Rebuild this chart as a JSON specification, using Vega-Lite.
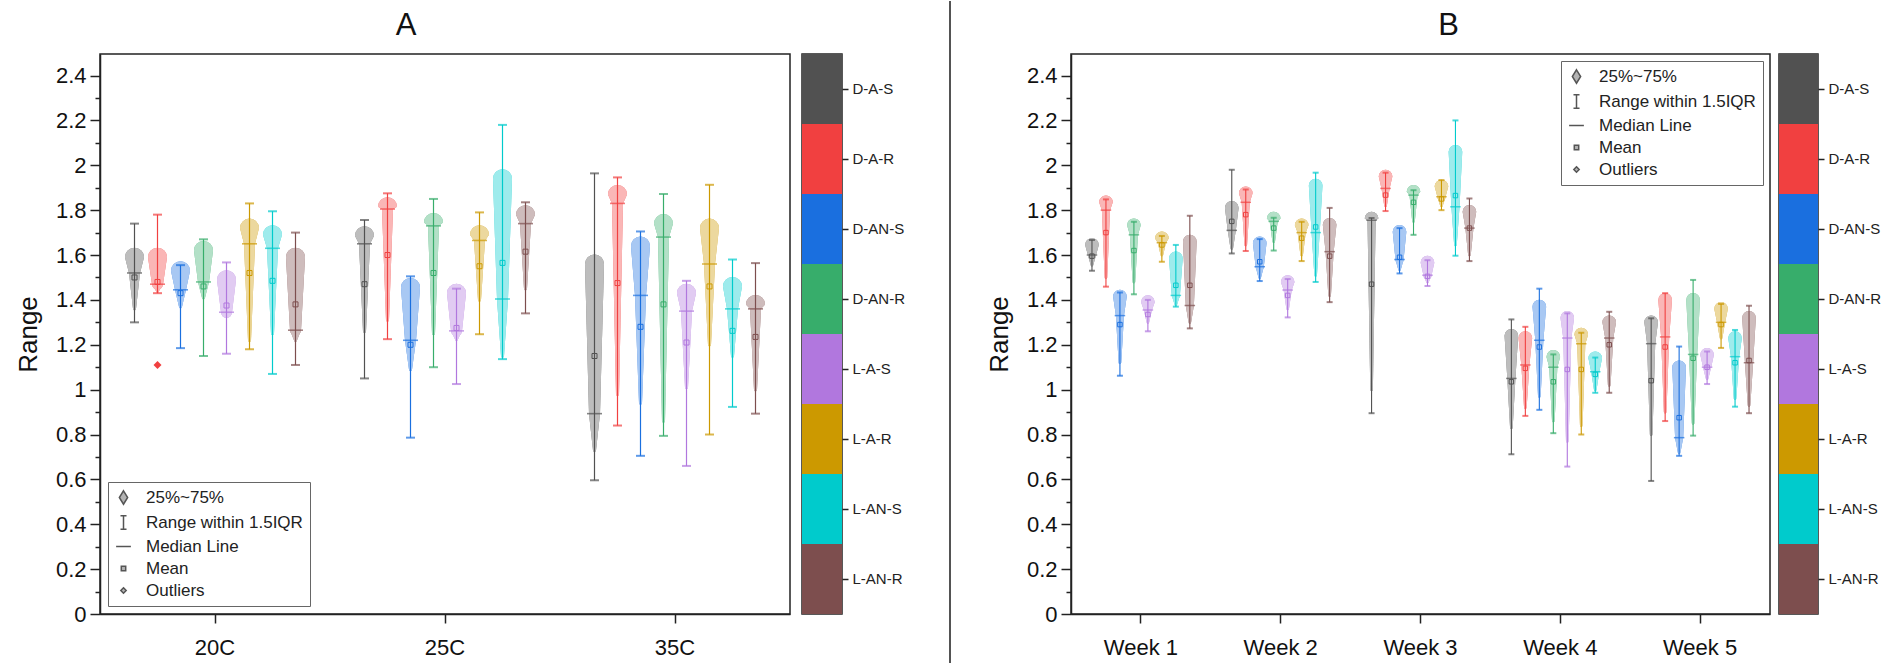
{
"$schema":"https://vega.github.io/schema/vega-lite/v6.json",
"padding":{"left":14,"top":0,"right":0,"bottom":0},
"autosize":{"type":"pad"},
"config":{"font":"Liberation Sans","view":{"stroke":"#222","strokeWidth":1.5},"axis":{"domainColor":"#222","tickColor":"#222","domainWidth":1.5,"tickWidth":1.5,"labelColor":"#111","grid":false}},
"datasets":{
"cats":[{"c":"D-A-S"},{"c":"D-A-R"},{"c":"D-AN-S"},{"c":"D-AN-R"},{"c":"L-A-S"},{"c":"L-A-R"},{"c":"L-AN-S"},{"c":"L-AN-R"}],
"a":[
{"g":"20C","c":"D-A-S","min":1.30,"q1":1.36,"median":1.52,"q3":1.59,"max":1.74,"mean":1.50},
{"g":"20C","c":"D-A-R","min":1.43,"q1":1.44,"median":1.47,"q3":1.59,"max":1.78,"mean":1.48,"out":1.11},
{"g":"20C","c":"D-AN-S","min":1.185,"q1":1.37,"median":1.445,"q3":1.53,"max":1.555,"mean":1.43},
{"g":"20C","c":"D-AN-R","min":1.15,"q1":1.41,"median":1.48,"q3":1.62,"max":1.67,"mean":1.46},
{"g":"20C","c":"L-A-S","min":1.16,"q1":1.33,"median":1.345,"q3":1.49,"max":1.567,"mean":1.375},
{"g":"20C","c":"L-A-R","min":1.18,"q1":1.22,"median":1.65,"q3":1.72,"max":1.83,"mean":1.52},
{"g":"20C","c":"L-AN-S","min":1.07,"q1":1.25,"median":1.63,"q3":1.69,"max":1.795,"mean":1.485},
{"g":"20C","c":"L-AN-R","min":1.11,"q1":1.22,"median":1.265,"q3":1.59,"max":1.70,"mean":1.38},
{"g":"25C","c":"D-A-S","min":1.05,"q1":1.26,"median":1.65,"q3":1.686,"max":1.756,"mean":1.47},
{"g":"25C","c":"D-A-R","min":1.225,"q1":1.31,"median":1.805,"q3":1.815,"max":1.875,"mean":1.60},
{"g":"25C","c":"D-AN-S","min":0.786,"q1":1.09,"median":1.22,"q3":1.455,"max":1.505,"mean":1.20},
{"g":"25C","c":"D-AN-R","min":1.10,"q1":1.25,"median":1.73,"q3":1.745,"max":1.85,"mean":1.52},
{"g":"25C","c":"L-A-S","min":1.025,"q1":1.225,"median":1.262,"q3":1.43,"max":1.45,"mean":1.275},
{"g":"25C","c":"L-A-R","min":1.247,"q1":1.40,"median":1.665,"q3":1.69,"max":1.79,"mean":1.55},
{"g":"25C","c":"L-AN-S","min":1.136,"q1":1.15,"median":1.404,"q3":1.94,"max":2.18,"mean":1.565},
{"g":"25C","c":"L-AN-R","min":1.34,"q1":1.45,"median":1.74,"q3":1.78,"max":1.835,"mean":1.615},
{"g":"35C","c":"D-A-S","min":0.596,"q1":0.73,"median":0.893,"q3":1.56,"max":1.964,"mean":1.15},
{"g":"35C","c":"D-A-R","min":0.84,"q1":0.98,"median":1.83,"q3":1.87,"max":1.946,"mean":1.475},
{"g":"35C","c":"D-AN-S","min":0.705,"q1":0.94,"median":1.42,"q3":1.64,"max":1.705,"mean":1.28},
{"g":"35C","c":"D-AN-R","min":0.794,"q1":0.86,"median":1.68,"q3":1.74,"max":1.872,"mean":1.38},
{"g":"35C","c":"L-A-S","min":0.66,"q1":1.01,"median":1.35,"q3":1.43,"max":1.485,"mean":1.21},
{"g":"35C","c":"L-A-R","min":0.80,"q1":1.20,"median":1.56,"q3":1.72,"max":1.913,"mean":1.46},
{"g":"35C","c":"L-AN-S","min":0.923,"q1":1.15,"median":1.36,"q3":1.46,"max":1.58,"mean":1.262},
{"g":"35C","c":"L-AN-R","min":0.893,"q1":1.0,"median":1.36,"q3":1.38,"max":1.564,"mean":1.235}
],
"b":[
{"g":"Week 1","c":"D-A-S","min":1.53,"q1":1.555,"median":1.60,"q3":1.645,"max":1.667,"mean":1.595},
{"g":"Week 1","c":"D-A-R","min":1.459,"q1":1.50,"median":1.80,"q3":1.835,"max":1.848,"mean":1.70},
{"g":"Week 1","c":"D-AN-S","min":1.062,"q1":1.12,"median":1.33,"q3":1.415,"max":1.433,"mean":1.29},
{"g":"Week 1","c":"D-AN-R","min":1.425,"q1":1.48,"median":1.69,"q3":1.733,"max":1.748,"mean":1.62},
{"g":"Week 1","c":"L-A-S","min":1.26,"q1":1.30,"median":1.355,"q3":1.39,"max":1.40,"mean":1.335},
{"g":"Week 1","c":"L-A-R","min":1.57,"q1":1.60,"median":1.655,"q3":1.674,"max":1.685,"mean":1.645},
{"g":"Week 1","c":"L-AN-S","min":1.37,"q1":1.38,"median":1.42,"q3":1.585,"max":1.645,"mean":1.465},
{"g":"Week 1","c":"L-AN-R","min":1.273,"q1":1.30,"median":1.375,"q3":1.66,"max":1.775,"mean":1.465},
{"g":"Week 2","c":"D-A-S","min":1.607,"q1":1.63,"median":1.71,"q3":1.81,"max":1.98,"mean":1.75},
{"g":"Week 2","c":"D-A-R","min":1.618,"q1":1.645,"median":1.835,"q3":1.875,"max":1.892,"mean":1.78},
{"g":"Week 2","c":"D-AN-S","min":1.484,"q1":1.50,"median":1.548,"q3":1.652,"max":1.671,"mean":1.57},
{"g":"Week 2","c":"D-AN-R","min":1.62,"q1":1.66,"median":1.75,"q3":1.763,"max":1.766,"mean":1.72},
{"g":"Week 2","c":"L-A-S","min":1.322,"q1":1.36,"median":1.444,"q3":1.48,"max":1.493,"mean":1.42},
{"g":"Week 2","c":"L-A-R","min":1.573,"q1":1.60,"median":1.70,"q3":1.733,"max":1.748,"mean":1.675},
{"g":"Week 2","c":"L-AN-S","min":1.48,"q1":1.51,"median":1.70,"q3":1.91,"max":1.967,"mean":1.725},
{"g":"Week 2","c":"L-AN-R","min":1.39,"q1":1.42,"median":1.615,"q3":1.735,"max":1.81,"mean":1.595},
{"g":"Week 3","c":"D-A-S","min":0.895,"q1":1.0,"median":1.755,"q3":1.763,"max":1.765,"mean":1.47},
{"g":"Week 3","c":"D-A-R","min":1.796,"q1":1.82,"median":1.897,"q3":1.95,"max":1.967,"mean":1.867},
{"g":"Week 3","c":"D-AN-S","min":1.518,"q1":1.535,"median":1.58,"q3":1.704,"max":1.72,"mean":1.59},
{"g":"Week 3","c":"D-AN-R","min":1.69,"q1":1.75,"median":1.867,"q3":1.882,"max":1.889,"mean":1.835},
{"g":"Week 3","c":"L-A-S","min":1.462,"q1":1.48,"median":1.51,"q3":1.566,"max":1.577,"mean":1.505},
{"g":"Week 3","c":"L-A-R","min":1.80,"q1":1.82,"median":1.86,"q3":1.905,"max":1.934,"mean":1.85},
{"g":"Week 3","c":"L-AN-S","min":1.597,"q1":1.645,"median":1.815,"q3":2.06,"max":2.20,"mean":1.865},
{"g":"Week 3","c":"L-AN-R","min":1.573,"q1":1.60,"median":1.72,"q3":1.793,"max":1.852,"mean":1.72},
{"g":"Week 4","c":"D-A-S","min":0.712,"q1":0.83,"median":1.05,"q3":1.24,"max":1.313,"mean":1.035},
{"g":"Week 4","c":"D-A-R","min":0.883,"q1":0.92,"median":1.11,"q3":1.23,"max":1.28,"mean":1.095},
{"g":"Week 4","c":"D-AN-S","min":0.91,"q1":0.97,"median":1.22,"q3":1.37,"max":1.45,"mean":1.19},
{"g":"Week 4","c":"D-AN-R","min":0.806,"q1":0.86,"median":1.10,"q3":1.146,"max":1.157,"mean":1.035},
{"g":"Week 4","c":"L-A-S","min":0.657,"q1":0.77,"median":1.23,"q3":1.32,"max":1.34,"mean":1.09},
{"g":"Week 4","c":"L-A-R","min":0.80,"q1":0.84,"median":1.205,"q3":1.245,"max":1.254,"mean":1.09},
{"g":"Week 4","c":"L-AN-S","min":0.986,"q1":1.0,"median":1.08,"q3":1.14,"max":1.143,"mean":1.068},
{"g":"Week 4","c":"L-AN-R","min":0.986,"q1":1.02,"median":1.23,"q3":1.30,"max":1.347,"mean":1.20},
{"g":"Week 5","c":"D-A-S","min":0.593,"q1":0.80,"median":1.205,"q3":1.30,"max":1.318,"mean":1.04},
{"g":"Week 5","c":"D-A-R","min":0.86,"q1":0.90,"median":1.235,"q3":1.40,"max":1.43,"mean":1.19},
{"g":"Week 5","c":"D-AN-S","min":0.705,"q1":0.72,"median":0.786,"q3":1.10,"max":1.192,"mean":0.875},
{"g":"Week 5","c":"D-AN-R","min":0.795,"q1":0.85,"median":1.157,"q3":1.40,"max":1.489,"mean":1.14},
{"g":"Week 5","c":"L-A-S","min":1.025,"q1":1.05,"median":1.10,"q3":1.155,"max":1.17,"mean":1.10},
{"g":"Week 5","c":"L-A-R","min":1.186,"q1":1.23,"median":1.30,"q3":1.36,"max":1.382,"mean":1.29},
{"g":"Week 5","c":"L-AN-S","min":0.924,"q1":0.96,"median":1.147,"q3":1.23,"max":1.266,"mean":1.12},
{"g":"Week 5","c":"L-AN-R","min":0.895,"q1":0.93,"median":1.12,"q3":1.32,"max":1.374,"mean":1.13}
]
},
"spacing":34,
"resolve":{"scale":{"color":"independent","shape":"independent","size":"independent","x":"independent","y":"independent","xOffset":"independent"},"legend":{"shape":"independent","color":"independent","size":"independent"}},
"hconcat":[
{"spacing":43,
 "resolve":{"scale":{"color":"independent","shape":"independent","size":"independent","x":"independent","y":"independent","xOffset":"independent"},"legend":{"shape":"independent","color":"independent","size":"independent"}},
 "hconcat":[
 {"spacing":10,
  "resolve":{"scale":{"color":"independent","shape":"independent","size":"independent","x":"independent","y":"independent","xOffset":"independent"},"legend":{"shape":"independent","color":"independent","size":"independent"}},
  "hconcat":[
  {"data":{"name":"a"},"width":690,"height":560,
   "title":{"text":"A","fontSize":31,"font":"Liberation Sans","fontWeight":"normal","color":"#111","dx":-39,"offset":12},
   "encoding":{
     "x":{"field":"g","type":"nominal","sort":["20C","25C","35C"],"scale":{"paddingInner":0,"paddingOuter":0},"axis":{"title":null,"labelAngle":0,"labelFontSize":22,"tickSize":9,"labelPadding":14}},
     "xOffset":{"field":"c","type":"nominal","sort":["D-A-S","D-A-R","D-AN-S","D-AN-R","L-A-S","L-A-R","L-AN-S","L-AN-R"],"scale":{"domain":["D-A-S","D-A-R","D-AN-S","D-AN-R","L-A-S","L-A-R","L-AN-S","L-AN-R"],"paddingInner":0,"paddingOuter":1}}
   },
   "resolve":{"axis":{"y":"independent"}},
   "layer":[
    {"transform":[{"fold":["q1","median","q3"],"as":["stat","v"]}],
     "mark":{"type":"trail"},
     "encoding":{
       "y":{"field":"v","type":"quantitative","scale":{"domain":[0,2.496],"nice":false,"zero":false},"axis":{"values":[0,0.2,0.4,0.6,0.8,1,1.2,1.4,1.6,1.8,2,2.2,2.4],"format":"~g","tickSize":10,"labelFontSize":22,"labelPadding":4,"title":"Range","titleFontSize":26,"titleFontWeight":"normal","titleColor":"#111","titlePadding":14}},
       "size":{"field":"stat","type":"ordinal","scale":{"domain":["q1","median","q3"],"range":[3,19,3]},"legend":null},
       "order":{"field":"v","type":"quantitative"},
       "color":{"field":"c","type":"nominal","scale":{"domain":["D-A-S","D-A-R","D-AN-S","D-AN-R","L-A-S","L-A-R","L-AN-S","L-AN-R"],"range":["#515151","#F14040","#1A6FDF","#37AD6B","#B177DE","#CC9900","#00CBCC","#7D4E4E"]},"legend":null},
       "detail":{"field":"g"}}},
    {"transform":[{"fold":["q1","median","q3"],"as":["stat","v"]}],
     "mark":{"type":"trail","color":"white"},
     "encoding":{
       "y":{"field":"v","type":"quantitative","axis":null},
       "size":{"field":"stat","type":"ordinal","scale":{"domain":["q1","median","q3"],"range":[0,15,0]},"legend":null},
       "order":{"field":"v","type":"quantitative"},
       "detail":[{"field":"g"},{"field":"c"}]}},
    {"transform":[{"fold":["q1","median","q3"],"as":["stat","v"]}],
     "mark":{"type":"trail","opacity":0.38},
     "encoding":{
       "y":{"field":"v","type":"quantitative","axis":null},
       "size":{"field":"stat","type":"ordinal","scale":{"domain":["q1","median","q3"],"range":[0,15,0]},"legend":null},
       "order":{"field":"v","type":"quantitative"},
       "color":{"field":"c","type":"nominal","legend":null},
       "detail":{"field":"g"}}},
    {"mark":{"type":"rule","strokeWidth":1.2},
     "encoding":{"y":{"field":"min","type":"quantitative","axis":null},"y2":{"field":"max"},"color":{"field":"c","type":"nominal","legend":null}}},
    {"mark":{"type":"tick","size":9,"thickness":2},
     "encoding":{"y":{"field":"min","type":"quantitative","axis":null},"color":{"field":"c","type":"nominal","legend":null}}},
    {"mark":{"type":"tick","size":9,"thickness":2},
     "encoding":{"y":{"field":"max","type":"quantitative","axis":{"orient":"left","values":[0.1,0.3,0.5,0.7,0.9,1.1,1.3,1.5,1.7,1.9,2.1,2.3],"tickSize":5,"labels":false,"domain":false,"title":null}},"color":{"field":"c","type":"nominal","legend":null}}},
    {"mark":{"type":"tick","size":15,"thickness":1.6},
     "encoding":{"y":{"field":"median","type":"quantitative","axis":null},"color":{"field":"c","type":"nominal","legend":null}}},
    {"mark":{"type":"point","shape":"M-1,-1H1V1H-1Z","filled":false,"size":25,"strokeWidth":1,"opacity":1},
     "encoding":{"y":{"field":"mean","type":"quantitative","axis":null},"color":{"field":"c","type":"nominal","legend":null}}},
    {"transform":[{"filter":"isValid(datum.out)"}],
     "mark":{"type":"point","filled":true,"size":400,"opacity":1},
     "encoding":{"y":{"field":"out","type":"quantitative","axis":null},"color":{"field":"c","type":"nominal","legend":null},
       "shape":{"datum":"Outliers","type":"nominal","scale":{"domain":["25%~75%","Range within 1.5IQR","Median Line","Mean","Outliers"],"range":["M0,-1L0.62,0L0,1L-0.62,0Z","M-0.45,-1H0.45M0,-1V1M-0.45,1H0.45","M-1.1,0H1.1","M-0.33,-0.33H0.33V0.33H-0.33Z","M0,-0.4L0.4,0L0,0.4L-0.4,0Z"]},
       "legend":{"title":null,"orient":"bottom-left","offset":8,"strokeColor":"#666","padding":7,"labelFontSize":17,"labelColor":"#222","symbolSize":180,"symbolStrokeColor":"#555","symbolStrokeWidth":1.5,"symbolFillColor":"#b3b3b3","rowPadding":4,"labelOffset":14}}}}
   ]},
  {"data":{"name":"cats"},"width":40,"height":560,
   "mark":{"type":"rect"},
   "encoding":{
     "y":{"field":"c","type":"nominal","sort":null,"scale":{"domain":["D-A-S","D-A-R","D-AN-S","D-AN-R","L-A-S","L-A-R","L-AN-S","L-AN-R"],"paddingInner":0,"paddingOuter":0},"axis":{"orient":"right","title":null,"domain":false,"tickSize":6,"labelFontSize":15,"labelPadding":4,"labelColor":"#222"}},
     "x":{"datum":0,"type":"quantitative","scale":{"domain":[0,1]},"axis":null},
     "x2":{"datum":1},
     "color":{"field":"c","type":"nominal","scale":{"domain":["D-A-S","D-A-R","D-AN-S","D-AN-R","L-A-S","L-A-R","L-AN-S","L-AN-R"],"range":["#515151","#F14040","#1A6FDF","#37AD6B","#B177DE","#CC9900","#00CBCC","#7D4E4E"]},"legend":null}}}
  ]},
 {"data":{"name":"cats"},"width":1,"height":560,"view":{"stroke":null},
  "mark":{"type":"rule","color":"#555","strokeWidth":1.5},
  "encoding":{
    "x":{"datum":0,"type":"quantitative","scale":{"domain":[0,1]},"axis":null},
    "y":{"datum":-0.0893,"type":"quantitative","scale":{"domain":[0,1],"nice":false,"zero":false},"axis":null},
    "y2":{"datum":1.0946}}}
 ]},
{"spacing":7,
 "resolve":{"scale":{"color":"independent","shape":"independent","size":"independent","x":"independent","y":"independent","xOffset":"independent"},"legend":{"shape":"independent","color":"independent","size":"independent"}},
 "hconcat":[
  {"data":{"name":"b"},"width":699,"height":560,
   "title":{"text":"B","fontSize":31,"font":"Liberation Sans","fontWeight":"normal","color":"#111","dx":28,"offset":12},
   "encoding":{
     "x":{"field":"g","type":"nominal","sort":["Week 1","Week 2","Week 3","Week 4","Week 5"],"scale":{"paddingInner":0,"paddingOuter":0},"axis":{"title":null,"labelAngle":0,"labelFontSize":22,"tickSize":9,"labelPadding":14}},
     "xOffset":{"field":"c","type":"nominal","sort":["D-A-S","D-A-R","D-AN-S","D-AN-R","L-A-S","L-A-R","L-AN-S","L-AN-R"],"scale":{"domain":["D-A-S","D-A-R","D-AN-S","D-AN-R","L-A-S","L-A-R","L-AN-S","L-AN-R"],"paddingInner":0,"paddingOuter":1}}
   },
   "resolve":{"axis":{"y":"independent"}},
   "layer":[
    {"transform":[{"fold":["q1","median","q3"],"as":["stat","v"]}],
     "mark":{"type":"trail"},
     "encoding":{
       "y":{"field":"v","type":"quantitative","scale":{"domain":[0,2.496],"nice":false,"zero":false},"axis":{"values":[0,0.2,0.4,0.6,0.8,1,1.2,1.4,1.6,1.8,2,2.2,2.4],"format":"~g","tickSize":10,"labelFontSize":22,"labelPadding":4,"title":"Range","titleFontSize":26,"titleFontWeight":"normal","titleColor":"#111","titlePadding":14}},
       "size":{"field":"stat","type":"ordinal","scale":{"domain":["q1","median","q3"],"range":[2.6,13.6,2.6]},"legend":null},
       "order":{"field":"v","type":"quantitative"},
       "color":{"field":"c","type":"nominal","scale":{"domain":["D-A-S","D-A-R","D-AN-S","D-AN-R","L-A-S","L-A-R","L-AN-S","L-AN-R"],"range":["#515151","#F14040","#1A6FDF","#37AD6B","#B177DE","#CC9900","#00CBCC","#7D4E4E"]},"legend":null},
       "detail":{"field":"g"}}},
    {"transform":[{"fold":["q1","median","q3"],"as":["stat","v"]}],
     "mark":{"type":"trail","color":"white"},
     "encoding":{
       "y":{"field":"v","type":"quantitative","axis":null},
       "size":{"field":"stat","type":"ordinal","scale":{"domain":["q1","median","q3"],"range":[0,10.5,0]},"legend":null},
       "order":{"field":"v","type":"quantitative"},
       "detail":[{"field":"g"},{"field":"c"}]}},
    {"transform":[{"fold":["q1","median","q3"],"as":["stat","v"]}],
     "mark":{"type":"trail","opacity":0.38},
     "encoding":{
       "y":{"field":"v","type":"quantitative","axis":null},
       "size":{"field":"stat","type":"ordinal","scale":{"domain":["q1","median","q3"],"range":[0,10.5,0]},"legend":null},
       "order":{"field":"v","type":"quantitative"},
       "color":{"field":"c","type":"nominal","legend":null},
       "detail":{"field":"g"}}},
    {"mark":{"type":"rule","strokeWidth":1.1},
     "encoding":{"y":{"field":"min","type":"quantitative","axis":null},"y2":{"field":"max"},"color":{"field":"c","type":"nominal","legend":null}}},
    {"mark":{"type":"tick","size":6,"thickness":2},
     "encoding":{"y":{"field":"min","type":"quantitative","axis":null},"color":{"field":"c","type":"nominal","legend":null}}},
    {"mark":{"type":"tick","size":6,"thickness":2},
     "encoding":{"y":{"field":"max","type":"quantitative","axis":{"orient":"left","values":[0.1,0.3,0.5,0.7,0.9,1.1,1.3,1.5,1.7,1.9,2.1,2.3],"tickSize":5,"labels":false,"domain":false,"title":null}},"color":{"field":"c","type":"nominal","legend":null}}},
    {"mark":{"type":"tick","size":10.5,"thickness":1.5},
     "encoding":{"y":{"field":"median","type":"quantitative","axis":null},"color":{"field":"c","type":"nominal","legend":null}}},
    {"mark":{"type":"point","shape":"M-1,-1H1V1H-1Z","filled":false,"size":20,"strokeWidth":1,"opacity":1},
     "encoding":{"y":{"field":"mean","type":"quantitative","axis":null},"color":{"field":"c","type":"nominal","legend":null}}},
    {"transform":[{"filter":"isValid(datum.out)"}],
     "mark":{"type":"point","filled":true,"size":400,"opacity":1},
     "encoding":{"y":{"field":"out","type":"quantitative","axis":null},"color":{"field":"c","type":"nominal","legend":null},
       "shape":{"datum":"Outliers","type":"nominal","scale":{"domain":["25%~75%","Range within 1.5IQR","Median Line","Mean","Outliers"],"range":["M0,-1L0.62,0L0,1L-0.62,0Z","M-0.45,-1H0.45M0,-1V1M-0.45,1H0.45","M-1.1,0H1.1","M-0.33,-0.33H0.33V0.33H-0.33Z","M0,-0.4L0.4,0L0,0.4L-0.4,0Z"]},
       "legend":{"title":null,"orient":"top-right","offset":7,"strokeColor":"#666","padding":7,"labelFontSize":17,"labelColor":"#222","symbolSize":180,"symbolStrokeColor":"#555","symbolStrokeWidth":1.5,"symbolFillColor":"#b3b3b3","rowPadding":4,"labelOffset":14}}}}
   ]},
  {"data":{"name":"cats"},"width":39,"height":560,
   "mark":{"type":"rect"},
   "encoding":{
     "y":{"field":"c","type":"nominal","sort":null,"scale":{"domain":["D-A-S","D-A-R","D-AN-S","D-AN-R","L-A-S","L-A-R","L-AN-S","L-AN-R"],"paddingInner":0,"paddingOuter":0},"axis":{"orient":"right","title":null,"domain":false,"tickSize":6,"labelFontSize":15,"labelPadding":4,"labelColor":"#222"}},
     "x":{"datum":0,"type":"quantitative","scale":{"domain":[0,1]},"axis":null},
     "x2":{"datum":1},
     "color":{"field":"c","type":"nominal","scale":{"domain":["D-A-S","D-A-R","D-AN-S","D-AN-R","L-A-S","L-A-R","L-AN-S","L-AN-R"],"range":["#515151","#F14040","#1A6FDF","#37AD6B","#B177DE","#CC9900","#00CBCC","#7D4E4E"]},"legend":null}}}
 ]}
]
}
